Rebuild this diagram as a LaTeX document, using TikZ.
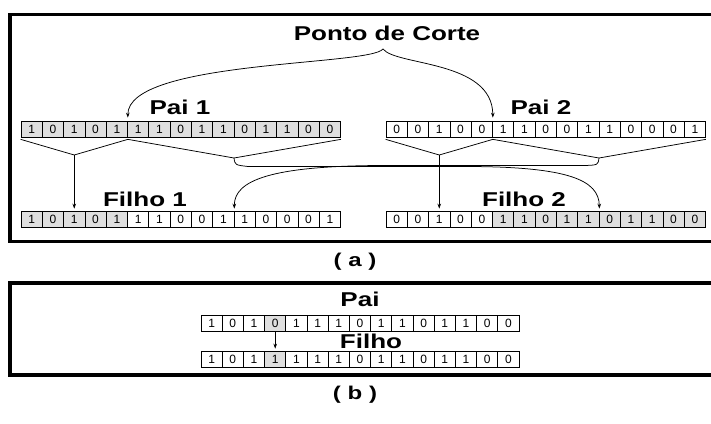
\documentclass[tikz,border=0pt]{standalone}
\usepackage{fontspec}
\setmainfont{Liberation Sans}
\usetikzlibrary{arrows.meta}
% wide bold heading text
\newcommand{\widetext}[1]{\scalebox{1.3}[1]{#1}}
\begin{document}
\begin{tikzpicture}[x=1pt,y=-1pt,
  cell/.style={draw, line width=0.7pt, minimum width=21.3pt, minimum height=16pt,
    inner sep=0pt, font=\fontsize{12}{12}\selectfont},
  frame/.style={line width=3.5pt},
  title/.style={font=\fontsize{20}{20}\selectfont\bfseries, inner sep=0pt},
  caption/.style={font=\fontsize{18.5}{18.5}\selectfont\bfseries, inner sep=0pt},
  conn/.style={line width=0.75pt},
  arr/.style={conn, -{Stealth[length=5pt,width=3.6pt]}, shorten >=2pt},
]
\useasboundingbox (0,0) rectangle (711,423);

% outer frames of parts (a) and (b)
\begin{scope}
  \clip (0,0) rectangle (711,423);
  \draw[frame] (10,14.5) rectangle (722,241.5);
  \draw[frame] (10,283) rectangle (722,375);
\end{scope}

% ---------- part (a): one-point crossover ----------
\foreach \b [count=\i] in {1,0,1,0,1,1,1,0,1,1,0,1,1,0,0}
  \node[cell, fill=gray!25] (p1-\i) at (21+\i*21.3-10.65,129) {\b};
\foreach \b [count=\i] in {0,0,1,0,0,1,1,0,0,1,1,0,0,0,1}
  \node[cell, fill=white] (p2-\i) at (386+\i*21.3-10.65,129) {\b};
\foreach \b [count=\i] in {1,0,1,0,1,1,1,0,0,1,1,0,0,0,1}{
  \ifnum\i<6 \def\fc{gray!25}\else\def\fc{white}\fi
  \node[cell, fill=\fc] (f1-\i) at (21+\i*21.3-10.65,219) {\b};}
\foreach \b [count=\i] in {0,0,1,0,0,1,1,0,1,1,0,1,1,0,0}{
  \ifnum\i<6 \def\fc{white}\else\def\fc{gray!25}\fi
  \node[cell, fill=\fc] (f2-\i) at (386+\i*21.3-10.65,219) {\b};}

\node[title] (pc)  at (387,33)  {\widetext{Ponto de Corte}};
\node[title] (lp1) at (180,107) {\widetext{Pai 1}};
\node[title] (lp2) at (541,107) {\widetext{Pai 2}};
\node[title] (lf1) at (145,199) {\widetext{Filho 1}};
\node[title] (lf2) at (524,199) {\widetext{Filho 2}};

% cut point pointers
\coordinate (cusp) at (383,49);
\draw[arr, shorten >=3pt] (cusp) .. controls (370,66) and (127.5,60) .. (p1-5.north east);
\draw[arr, shorten >=3pt] (cusp) .. controls (396,66) and (492.5,60) .. (p2-5.north east);

% brackets under the parents
\coordinate (a1) at (74.25,155);
\coordinate (b1) at (234,158);
\coordinate (a2) at (439.25,155);
\coordinate (b2) at (599,158);
\draw[conn] ([yshift=-2pt]p1-1.south west) -- (a1) -- ([yshift=-2pt]p1-5.south east);
\draw[conn] ([yshift=-2pt]p1-5.south east) -- (b1) -- ([yshift=-2pt]p1-15.south east);
\draw[conn] ([yshift=-2pt]p2-1.south west) -- (a2) -- ([yshift=-2pt]p2-5.south east);
\draw[conn] ([yshift=-2pt]p2-5.south east) -- (b2) -- ([yshift=-2pt]p2-15.south east);

% heads stay, tails swap
\draw[arr] (a1) -- (f1-3.north);
\draw[arr] (a2) -- (f2-3.north);
\draw[arr] (b1) .. controls (235,165) .. (248,166.5) -- (470,166.5)
  .. controls (568,167) and (599,180) .. (f2-10.north east);
\draw[arr] (b2) .. controls (598,165) .. (585,165.5) -- (380,165.5)
  .. controls (272,166) and (234,180) .. (f1-10.north east);

\node[caption] (ca) at (355,262) {\widetext{( a )}};

% ---------- part (b): mutation ----------
\foreach \b [count=\i] in {1,0,1,0,1,1,1,0,1,1,0,1,1,0,0}{
  \ifnum\i=4 \def\fc{gray!25}\else\def\fc{white}\fi
  \node[cell, fill=\fc] (mp-\i) at (201+\i*21.2-10.6,323) {\b};}
\foreach \b [count=\i] in {1,0,1,1,1,1,1,0,1,1,0,1,1,0,0}{
  \ifnum\i=4 \def\fc{gray!25}\else\def\fc{white}\fi
  \node[cell, fill=\fc] (mf-\i) at (201+\i*21.2-10.6,359) {\b};}

\node[title] (lmp) at (360,299) {\widetext{Pai}};
\node[title] (lmf) at (371,341) {\widetext{Filho}};
\draw[arr] ([yshift=-1pt]mp-4.south) -- (mf-4.north);

\node[caption] (cb) at (355,395) {\widetext{( b )}};
\end{tikzpicture}
\end{document}
